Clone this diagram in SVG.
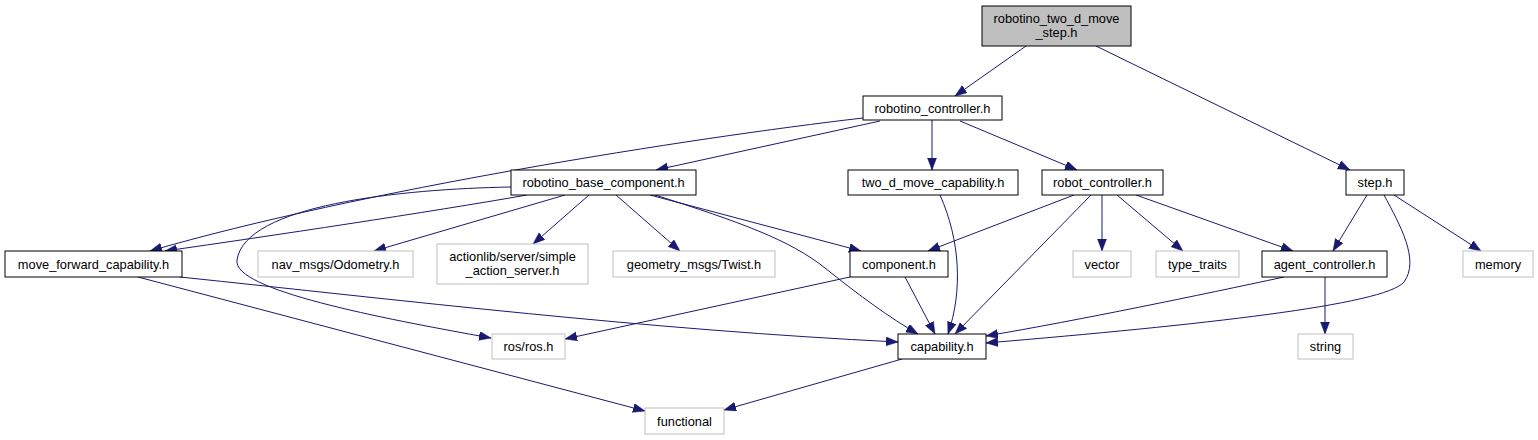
<svg xmlns="http://www.w3.org/2000/svg" width="1538" height="440" viewBox="0 0 1538 440">
<style>
.n rect{fill:#fff;stroke:#000;stroke-width:1}
.n.g rect{stroke:#bfbfbf}
.n.root rect{fill:#bfbfbf}
.n text{font-family:"Liberation Sans",Arial,sans-serif;font-size:12.8px;text-anchor:middle;fill:#000}
#edges path{fill:none;stroke:#191970;stroke-width:1;marker-end:url(#ah)}
</style>
<defs>
<marker id="ah" markerUnits="userSpaceOnUse" markerWidth="13" markerHeight="10" refX="12" refY="4.5" orient="auto">
<path d="M0,0 L12,4.5 L0,9 z" fill="#191970" stroke="#191970" stroke-width="0.5"/>
</marker>
</defs>
<rect width="1538" height="440" fill="#fff"/>
<g id="edges">
<path d="M1026,46 L955,96"/>
<path d="M1096,46 L1350,170"/>
<path d="M863,118 C690,138 360,190 150,251"/>
<path d="M880,121 L656,170"/>
<path d="M932,120 L932,170"/>
<path d="M960,121 L1077,170"/>
<path d="M527,195 C430,212 270,236 165,251"/>
<path d="M511,187 C400,189 245,205 237,260 C232,290 380,318 491,338"/>
<path d="M565,195 L374,251"/>
<path d="M589,195 L533,244"/>
<path d="M616,195 L680,251"/>
<path d="M650,195 L861,251"/>
<path d="M655,195 C740,222 790,240 825,268 C860,296 890,318 918,334"/>
<path d="M940,195 C960,240 963,290 948,334"/>
<path d="M1074,195 L928,251"/>
<path d="M1091,195 L955,334"/>
<path d="M1102,195 L1102,251"/>
<path d="M1117,195 L1183,251"/>
<path d="M1136,195 L1293,251"/>
<path d="M1367,195 L1333,251"/>
<path d="M1384,195 C1400,225 1420,260 1404,282 C1385,305 1200,325 986,343"/>
<path d="M1394,195 L1481,251"/>
<path d="M180,277 C400,300 650,330 898,342"/>
<path d="M138,277 L645,411"/>
<path d="M850,277 L565,339"/>
<path d="M905,277 L935,334"/>
<path d="M1284,277 C1200,295 1080,320 986,336"/>
<path d="M1325,277 L1325,334"/>
<path d="M902,359 L724,410"/>
</g>
<g id="root" class="n root"><rect x="982" y="6" width="149" height="40"/><text x="1056.5" y="22.5">robotino_two_d_move</text><text x="1056.5" y="37">_step.h</text></g>
<g id="robotino_controller" class="n"><rect x="863" y="96" width="139" height="24"/><text x="932.5" y="112.5">robotino_controller.h</text></g>
<g id="robotino_base_component" class="n"><rect x="511" y="170" width="185" height="25"/><text x="603.5" y="187">robotino_base_component.h</text></g>
<g id="two_d_move_capability" class="n"><rect x="848" y="170" width="170" height="25"/><text x="933" y="187">two_d_move_capability.h</text></g>
<g id="robot_controller" class="n"><rect x="1042" y="170" width="121" height="25"/><text x="1102.5" y="187">robot_controller.h</text></g>
<g id="step" class="n"><rect x="1346" y="170" width="58" height="25"/><text x="1375" y="187">step.h</text></g>
<g id="move_forward_capability" class="n"><rect x="5" y="251" width="177" height="26"/><text x="93.5" y="268.5">move_forward_capability.h</text></g>
<g id="nav_msgs" class="n g"><rect x="258" y="251" width="155" height="26"/><text x="335.5" y="268.5">nav_msgs/Odometry.h</text></g>
<g id="actionlib" class="n g"><rect x="437" y="244" width="151" height="40"/><text x="512.5" y="260.5">actionlib/server/simple</text><text x="512.5" y="275">_action_server.h</text></g>
<g id="geometry_msgs" class="n g"><rect x="613" y="251" width="162" height="26"/><text x="694" y="268.5">geometry_msgs/Twist.h</text></g>
<g id="component" class="n"><rect x="850" y="251" width="98" height="26"/><text x="899" y="268.5">component.h</text></g>
<g id="vector" class="n g"><rect x="1073" y="251" width="58" height="26"/><text x="1102" y="268.5">vector</text></g>
<g id="type_traits" class="n g"><rect x="1156" y="251" width="83" height="26"/><text x="1197.5" y="268.5">type_traits</text></g>
<g id="agent_controller" class="n"><rect x="1262" y="251" width="125" height="26"/><text x="1324.5" y="268.5">agent_controller.h</text></g>
<g id="memory" class="n g"><rect x="1463" y="251" width="70" height="26"/><text x="1498" y="268.5">memory</text></g>
<g id="ros" class="n g"><rect x="492" y="334" width="73" height="25"/><text x="528.5" y="351">ros/ros.h</text></g>
<g id="capability" class="n"><rect x="898" y="334" width="88" height="25"/><text x="942" y="351">capability.h</text></g>
<g id="string" class="n g"><rect x="1298" y="334" width="55" height="25"/><text x="1325.5" y="351">string</text></g>
<g id="functional" class="n g"><rect x="645" y="408" width="79" height="26"/><text x="684.5" y="425.5">functional</text></g>
</svg>
